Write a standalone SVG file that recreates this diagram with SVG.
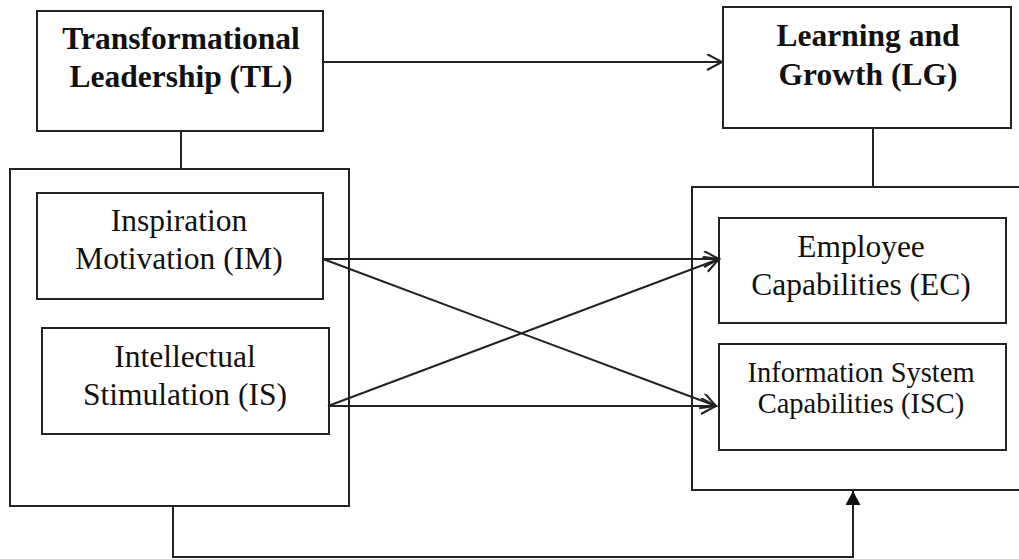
<svg xmlns="http://www.w3.org/2000/svg" width="1019" height="559" viewBox="0 0 1019 559">
<style>
.box{fill:#fff;stroke:#222;stroke-width:2}
.con{fill:none;stroke:#222;stroke-width:2}
.b{font-family:"Liberation Serif",serif;font-weight:bold;font-size:31.5px;fill:#111;text-anchor:middle}
.r{font-family:"Liberation Serif",serif;font-size:31.5px;fill:#111;text-anchor:middle}
.s{font-family:"Liberation Serif",serif;font-size:28.5px;fill:#111;text-anchor:middle}
</style>
<defs>
<marker id="open" markerWidth="20" markerHeight="20" refX="17" refY="8" orient="auto" markerUnits="userSpaceOnUse">
<path d="M2,0 L17,8 L2,16" fill="none" stroke="#222" stroke-width="2"/>
</marker>
<marker id="solid" markerWidth="16" markerHeight="16" refX="14" refY="7.5" orient="auto" markerUnits="userSpaceOnUse">
<path d="M0,0 L14,7.5 L0,15 Z" fill="#111"/>
</marker>
</defs>
<rect width="1019" height="559" fill="#fff"/>
<g id="tl"><rect class="box" x="37" y="11" width="286" height="120"/>
<text class="b" x="181" y="49">Transformational</text><text class="b" x="181" y="87">Leadership (TL)</text></g>
<g id="lg"><rect class="box" x="723" y="7" width="288" height="121"/>
<text class="b" x="868" y="46">Learning and</text><text class="b" x="868" y="85">Growth (LG)</text></g>
<g id="tl-group"><rect class="box" x="10" y="169" width="339" height="337"/></g>
<g id="lg-group"><rect class="box" x="692" y="187" width="330" height="303"/></g>
<g id="im"><rect class="box" x="37" y="193" width="286" height="106"/>
<text class="r" x="179" y="231">Inspiration</text><text class="r" x="179" y="269">Motivation (IM)</text></g>
<g id="is"><rect class="box" x="42" y="328" width="287" height="106"/>
<text class="r" x="185" y="367">Intellectual</text><text class="r" x="185" y="405">Stimulation (IS)</text></g>
<g id="ec"><rect class="box" x="719" y="218" width="287" height="105"/>
<text class="r" x="861" y="257">Employee</text><text class="r" x="861" y="295">Capabilities (EC)</text></g>
<g id="isc"><rect class="box" x="719" y="344" width="287" height="106"/>
<text class="s" x="861" y="382">Information System</text><text class="s" x="861" y="413">Capabilities (ISC)</text></g>
<g id="connectors">
<line class="con" x1="323" y1="62" x2="722" y2="62" marker-end="url(#open)"/>
<line class="con" x1="181" y1="131" x2="181" y2="169"/>
<line class="con" x1="873" y1="128" x2="873" y2="187"/>
<line class="con" x1="323" y1="259" x2="719" y2="259" marker-end="url(#open)"/>
<line class="con" x1="323" y1="259" x2="716" y2="406" marker-end="url(#open)"/>
<line class="con" x1="328" y1="406" x2="716" y2="406" marker-end="url(#open)"/>
<line class="con" x1="328" y1="406" x2="719" y2="259" marker-end="url(#open)"/>
<path class="con" d="M173,506 V557 H853 V491" marker-end="url(#solid)"/>
</g>
</svg>
